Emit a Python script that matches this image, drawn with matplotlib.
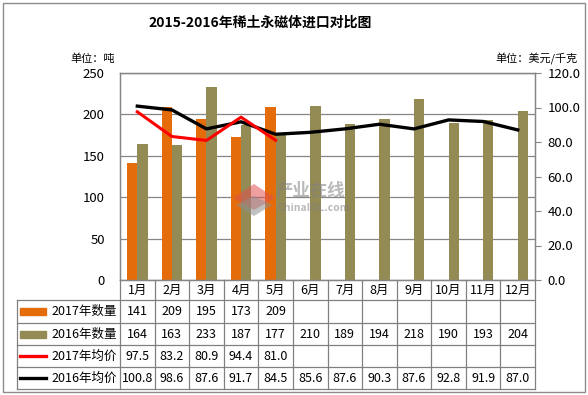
import numpy as np
import matplotlib
matplotlib.use("Agg")
import matplotlib.pyplot as plt
from matplotlib.patches import Rectangle, Polygon

plt.rcParams['font.family'] = ['Noto Sans CJK SC', 'DejaVu Sans']

months = ['1月', '2月', '3月', '4月', '5月', '6月', '7月', '8月', '9月', '10月', '11月', '12月']
qty_2017 = [141, 209, 195, 173, 209]
qty_2016 = [164, 163, 233, 187, 177, 210, 189, 194, 218, 190, 193, 204]
price_2017 = [97.5, 83.2, 80.9, 94.4, 81.0]
price_2016 = [100.8, 98.6, 87.6, 91.7, 84.5, 85.6, 87.6, 90.3, 87.6, 92.8, 91.9, 87.0]
series_names = ['2017年数量', '2016年数量', '2017年均价', '2016年均价']
left_ticks = [0, 50, 100, 150, 200, 250]
right_ticks = [0, 20, 40, 60, 80, 100, 120]

c_2017q = '#E46C0A'
c_2016q = '#948A54'
c_2017p = '#FF0000'
c_2016p = '#000000'
grid_c = '#868686'

W, H = 588, 395
fig = plt.figure(figsize=(W / 100, H / 100), dpi=100)

# outer border
fig.patches.append(Rectangle((3 / W, 3 / H), 582 / W, 389 / H, transform=fig.transFigure,
                             fill=False, edgecolor='#8c8c8c', linewidth=1.0))

pl, pr, pt, pb = 120, 535, 73, 280
ax = fig.add_axes([pl / W, 1 - pb / H, (pr - pl) / W, (pb - pt) / H])
x = np.arange(len(months))
bw = 0.3
ax.bar(x[:len(qty_2017)] - bw / 2, qty_2017, width=bw, color=c_2017q, zorder=2)
ax.bar(x + bw / 2, qty_2016, width=bw, color=c_2016q, zorder=2)
ax.set_xlim(-0.5, len(months) - 0.5)
ax.set_ylim(0, 250)
ax.set_yticks(left_ticks)
ax.set_yticklabels([str(t) for t in left_ticks], fontsize=9.5)
ax.tick_params(axis='y', length=0, pad=11)
ax.set_xticks([])
ax.yaxis.grid(True, color=grid_c, linewidth=0.9)
ax.set_axisbelow(True)
for s in ax.spines.values():
    s.set_color(grid_c)
    s.set_linewidth(0.9)

ax2 = ax.twinx()
ax2.plot(x, price_2016, color=c_2016p, linewidth=2.4, zorder=4)
ax2.plot(x[:len(price_2017)], price_2017, color=c_2017p, linewidth=2.2, zorder=5)
ax2.set_ylim(0, 120)
ax2.set_yticks(right_ticks)
ax2.set_yticklabels([f'{t:.1f}' for t in right_ticks], fontsize=9.5)
ax2.tick_params(axis='y', length=4, color=grid_c, pad=5)
for s in ax2.spines.values():
    s.set_color(grid_c)
    s.set_linewidth(0.9)

# watermark (logo + text), semi-transparent
wm = fig.add_axes([0, 0, 1, 1], facecolor='none')
wm.set_xlim(0, W)
wm.set_ylim(H, 0)
wm.axis('off')
wm.add_patch(Polygon([[233, 198], [254, 184], [275, 198], [254, 210]], closed=True,
                     facecolor='#E05050', alpha=0.55, edgecolor='none'))
wm.add_patch(Polygon([[236, 205], [254, 196], [272, 205], [254, 216]], closed=True,
                     facecolor='#909090', alpha=0.55, edgecolor='none'))
wm.text(276, 191, '产业在线', fontsize=12.5, color='#808080', alpha=0.55,
        ha='left', va='center', fontweight='bold')
wm.text(277, 208, 'ChinaIOL.com', fontsize=7.5, color='#808080', alpha=0.55,
        ha='left', va='center', fontweight='bold')

# title and units
fig.text(260 / W, 1 - 23 / H, '2015-2016年稀土永磁体进口对比图', ha='center', va='center',
         fontsize=10, fontweight='bold')
fig.text(115 / W, 1 - 59 / H, '单位：吨', ha='right', va='center', fontsize=8)
fig.text(578 / W, 1 - 59 / H, '单位：美元/千克', ha='right', va='center', fontsize=8)

# data table
tl, tb = 17, 389
tax = fig.add_axes([tl / W, 1 - tb / H, (pr - tl) / W, (tb - pb) / H])
unit = (pr - pl) / len(months)
L = (pl - tl) / unit
ncol = len(months)
tax.set_xlim(0, L + ncol)
row_edges = [0, 20, 43, 65, 87, 109]
tax.set_ylim(row_edges[-1], 0)
tax.axis('off')
lc = '#808080'
lw = 0.9
for yv in row_edges[1:]:
    tax.plot([0, L + ncol], [yv, yv], color=lc, linewidth=lw, clip_on=False)
tax.plot([0, 0], [row_edges[1], row_edges[-1]], color=lc, linewidth=lw, clip_on=False)
for j in range(ncol + 1):
    tax.plot([L + j, L + j], [0, row_edges[-1]], color=lc, linewidth=lw, clip_on=False)
for j, m in enumerate(months):
    tax.text(L + j + 0.5, (row_edges[0] + row_edges[1]) / 2, m, ha='center', va='center', fontsize=9)
rows = [qty_2017, qty_2016, price_2017, price_2016]
fmts = ['{:d}', '{:d}', '{:.1f}', '{:.1f}']
for r, (vals, fmt) in enumerate(zip(rows, fmts)):
    yc = (row_edges[r + 1] + row_edges[r + 2]) / 2
    for j, v in enumerate(vals):
        tax.text(L + j + 0.5, yc, fmt.format(v), ha='center', va='center', fontsize=9)
    tax.text(L - 0.08, yc, series_names[r], ha='right', va='center', fontsize=9)
kx0, kx1 = (20 - tl) / unit, (46 - tl) / unit
key_specs = [('bar', c_2017q), ('bar', c_2016q), ('line', c_2017p), ('line', c_2016p)]
for r, (kind, col) in enumerate(key_specs):
    yc = (row_edges[r + 1] + row_edges[r + 2]) / 2
    if kind == 'bar':
        tax.add_patch(Rectangle((kx0, yc - 3.5), kx1 - kx0, 7, color=col, clip_on=False))
    else:
        tax.plot([kx0, kx1], [yc, yc], color=col, linewidth=2.4, clip_on=False)

fig.savefig('out.png', dpi=100)
